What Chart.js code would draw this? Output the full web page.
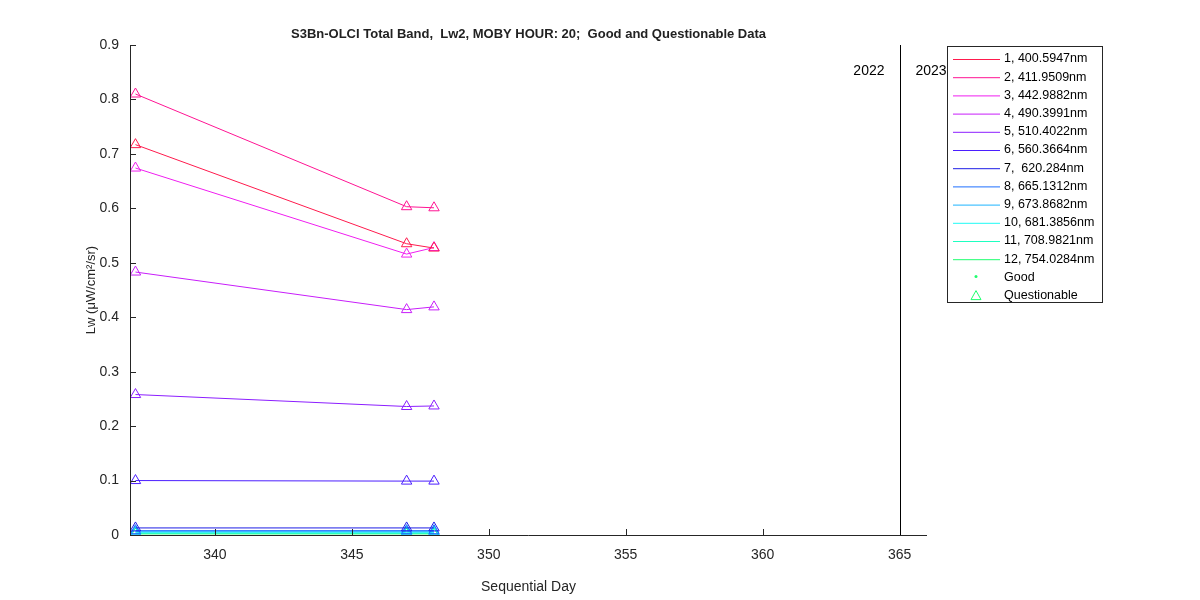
<!DOCTYPE html>
<html>
<head>
<meta charset="utf-8">
<script src="https://cdn.jsdelivr.net/npm/chart.js@4"></script>
<style>
  body { margin: 0; background: #fff; }
  #wrap { position: relative; width: 1200px; height: 600px; }
</style>
</head>
<body>
<div id="wrap"><canvas id="c" width="1200" height="600"></canvas></div>
<script>
var days = [337.1, 347, 348];
var bandLabels = ['1, 400.5947nm', '2, 411.9509nm', '3, 442.9882nm', '4, 490.3991nm',
  '5, 510.4022nm', '6, 560.3664nm', '7,  620.284nm', '8, 665.1312nm',
  '9, 673.8682nm', '10, 681.3856nm', '11, 708.9821nm', '12, 754.0284nm'];
var bandColors = ['#ff1a4d', '#ff1493', '#f01ef0', '#c81efa', '#8c1eff', '#4b1eff',
  '#1e1ee6', '#1e6eff', '#1eb4ff', '#1efaf5', '#1effc0', '#1eff6e'];
var lw = [
  [0.717, 0.535, 0.527],
  [0.810, 0.603, 0.601],
  [0.674, 0.516, 0.528],
  [0.483, 0.414, 0.419],
  [0.258, 0.236, 0.237],
  [0.100, 0.099, 0.099],
  [0.013, 0.013, 0.013],
  [0.008, 0.008, 0.008],
  [0.006, 0.006, 0.006],
  [0.005, 0.005, 0.005],
  [0.003, 0.003, 0.003],
  [0.002, 0.002, 0.002]
];
var yearLine = 365;

var datasets = lw.map(function (vals, i) {
  return {
    label: bandLabels[i],
    data: vals.map(function (v, j) { return { x: days[j], y: v }; }),
    borderColor: bandColors[i],
    backgroundColor: 'rgba(0,0,0,0)',
    borderWidth: 1,
    pointStyle: 'triangle',
    pointRadius: 6,
    pointBorderColor: bandColors[i],
    pointBorderWidth: 1
  };
});

var matlabFrame = {
  id: 'matlabFrame',
  afterDraw: function (chart) {
    var ctx = chart.ctx, a = chart.chartArea;
    var xs = chart.scales.x, ys = chart.scales.y;
    ctx.save();
    ctx.strokeStyle = '#262626';
    ctx.lineWidth = 1;
    ctx.beginPath();
    ctx.moveTo(a.left + 0.5, a.top); ctx.lineTo(a.left + 0.5, a.bottom + 0.5);
    ctx.lineTo(a.right, a.bottom + 0.5);
    xs.ticks.forEach(function (t) {
      var px = Math.round(xs.getPixelForValue(t.value)) + 0.5;
      ctx.moveTo(px, a.bottom); ctx.lineTo(px, a.bottom - 6);
    });
    ys.ticks.forEach(function (t) {
      var py = Math.round(ys.getPixelForValue(t.value)) + 0.5;
      ctx.moveTo(a.left, py); ctx.lineTo(a.left + 6, py);
    });
    ctx.stroke();
    // year boundary
    var lx = Math.round(xs.getPixelForValue(yearLine)) + 0.5;
    ctx.strokeStyle = '#000';
    ctx.beginPath(); ctx.moveTo(lx, a.top); ctx.lineTo(lx, a.bottom); ctx.stroke();
    ctx.fillStyle = '#000';
    ctx.font = '14px Arial, "Liberation Sans", sans-serif';
    ctx.textBaseline = 'middle';
    ctx.textAlign = 'right';
    ctx.fillText('2022', lx - 16, 71);
    ctx.textAlign = 'left';
    ctx.save();
    ctx.beginPath(); ctx.rect(lx, 0, 948 - lx, 600); ctx.clip();
    ctx.fillText('2023', lx + 15, 71);
    ctx.restore();
    // title
    ctx.font = 'bold 13px Arial, "Liberation Sans", sans-serif';
    ctx.textAlign = 'center';
    ctx.fillStyle = '#222';
    ctx.fillText('S3Bn-OLCI Total Band,  Lw2, MOBY HOUR: 20;  Good and Questionable Data', (a.left + a.right) / 2, 34);
    // legend
    var lx0 = 947, ly0 = 46, lwid = 155, lh = 256;
    ctx.fillStyle = '#fff';
    ctx.fillRect(lx0, ly0, lwid, lh);
    ctx.strokeStyle = '#262626';
    ctx.strokeRect(lx0 + 0.5, ly0 + 0.5, lwid, lh);
    ctx.font = '12.5px Arial, "Liberation Sans", sans-serif';
    ctx.textAlign = 'left';
    for (var i = 0; i < bandLabels.length; i++) {
      var yy = 59 + i * 18.2;
      ctx.strokeStyle = bandColors[i];
      ctx.beginPath(); ctx.moveTo(953, yy + 0.5); ctx.lineTo(1000, yy + 0.5); ctx.stroke();
      ctx.fillStyle = '#000';
      ctx.fillText(bandLabels[i], 1004, yy);
    }
    var gy = 59 + 12 * 18.2;
    ctx.fillStyle = '#1eff6e';
    ctx.beginPath(); ctx.arc(976, gy - 1, 1.5, 0, Math.PI * 2); ctx.fill();
    ctx.fillStyle = '#000';
    ctx.fillText('Good', 1004, gy);
    var qy = gy + 18.2;
    ctx.strokeStyle = '#1eff6e';
    ctx.beginPath(); ctx.moveTo(971, qy + 4); ctx.lineTo(981, qy + 4); ctx.lineTo(976, qy - 5); ctx.closePath(); ctx.stroke();
    ctx.fillText('Questionable', 1004, qy);
    ctx.restore();
  }
};

new Chart(document.getElementById('c'), {
  type: 'line',
  data: { datasets: datasets },
  options: {
    responsive: false,
    animation: false,
    layout: { padding: { top: 45, right: 273, left: 80, bottom: 0 } },
    plugins: { legend: { display: false }, title: { display: false }, tooltip: { enabled: false } },
    scales: {
      x: {
        type: 'linear', min: 336.9, max: 366,
        afterBuildTicks: function (s) { s.ticks = [340, 345, 350, 355, 360, 365].map(function (v) { return { value: v }; }); },
        afterFit: function (s) { s.height = 65; },
        grid: { display: false },
        border: { display: false },
        ticks: { color: '#262626', font: { size: 14, family: 'Arial, "Liberation Sans", sans-serif' }, padding: 4 },
        title: { display: true, text: 'Sequential Day', color: '#262626', font: { size: 14, family: 'Arial, "Liberation Sans", sans-serif' }, padding: { top: 2 } }
      },
      y: {
        min: 0, max: 0.9,
        ticks: { stepSize: 0.1, color: '#262626', font: { size: 14, family: 'Arial, "Liberation Sans", sans-serif' },
          callback: function (v) { return Math.round(v * 10) / 10; } },
        afterFit: function (s) { s.width = 50; },
        grid: { display: false },
        border: { display: false },
        title: { display: true, text: 'Lw (μW/cm²/sr)', color: '#262626', font: { size: 13, family: 'Arial, "Liberation Sans", sans-serif' } }
      }
    }
  },
  plugins: [matlabFrame]
});
</script>
</body>
</html>
